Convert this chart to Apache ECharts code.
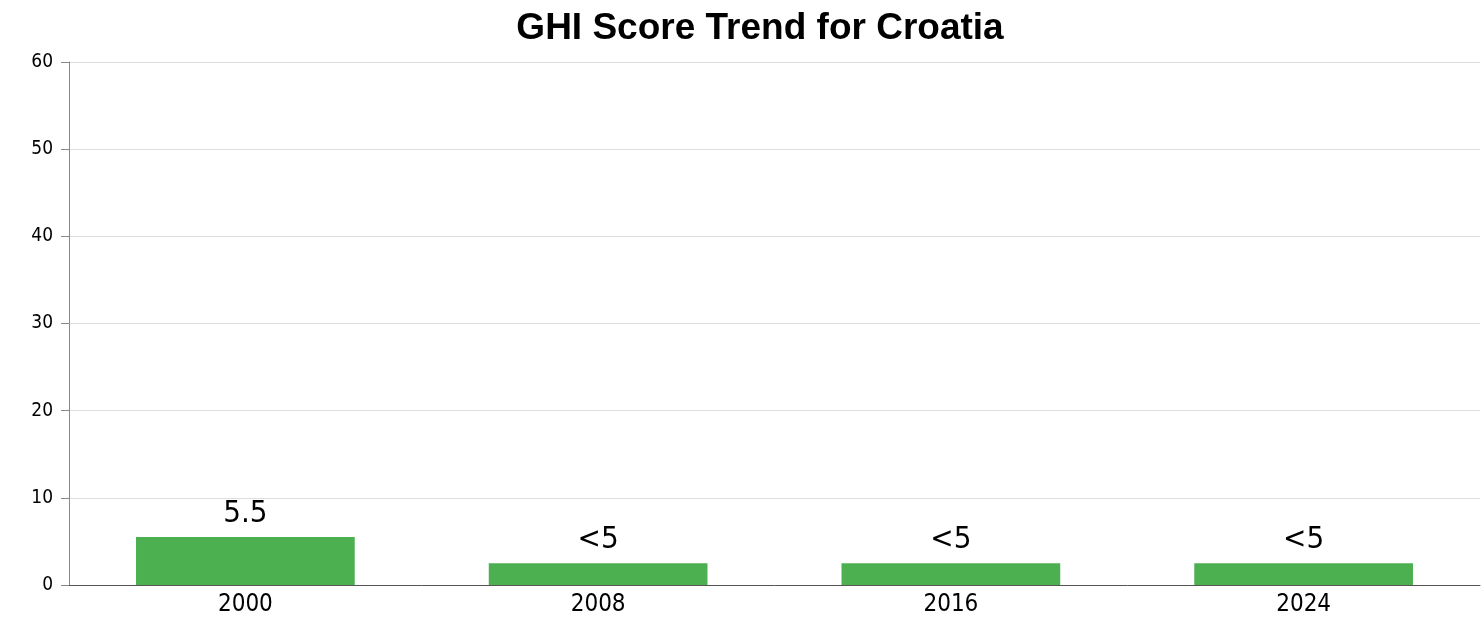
<!DOCTYPE html>
<html>
<head>
<meta charset="utf-8">
<script src="https://cdn.jsdelivr.net/npm/echarts@6/dist/echarts.min.js"></script>
<style>html,body{margin:0;padding:0;background:#fff}#c{width:1484px;height:620px}</style>
</head>
<body>
<div id="c"></div>
<script>
const categories = ['2000', '2008', '2016', '2024'];
const values = [5.5, 2.5, 2.5, 2.5];
const valueLabels = ['5.5', '<5', '<5', '<5'];
const yTicks = [0, 10, 20, 30, 40, 50, 60];

const chart = echarts.init(document.getElementById('c'));
const labelFont = '"DejaVu Sans Condensed", "DejaVu Sans", sans-serif';
chart.setOption({
  animation: false,
  title: {
    text: 'GHI Score Trend for Croatia',
    left: 755, top: 5, textAlign: 'center',
    textStyle: { fontFamily: '"Liberation Sans", Arial, sans-serif', fontWeight: 'bold', fontSize: 37, color: '#000' }
  },
  grid: { left: 69, right: 4, top: 62, bottom: 35, containLabel: false },
  xAxis: {
    type: 'category', data: categories,
    axisLine: { lineStyle: { color: '#555', width: 1 } },
    axisTick: { alignWithLabel: true, length: 7, lineStyle: { color: '#555' } },
    axisLabel: { fontFamily: labelFont, fontSize: 24, color: '#000', margin: 8 }
  },
  yAxis: {
    type: 'value', min: yTicks[0], max: yTicks[yTicks.length - 1], interval: 10,
    axisLine: { show: true, lineStyle: { color: '#888', width: 1 } },
    axisTick: { show: true, length: 8, lineStyle: { color: '#888' } },
    axisLabel: { fontFamily: labelFont, fontSize: 19, color: '#000', margin: 16 },
    splitLine: { lineStyle: { color: '#ddd' } }
  },
  series: [{
    type: 'bar', data: values, barWidth: '62%',
    itemStyle: { color: '#4caf50' },
    label: {
      show: true, position: 'top', distance: 8,
      fontFamily: labelFont, fontSize: 31, color: '#000',
      formatter: p => valueLabels[p.dataIndex]
    }
  }]
});
</script>
</body>
</html>
